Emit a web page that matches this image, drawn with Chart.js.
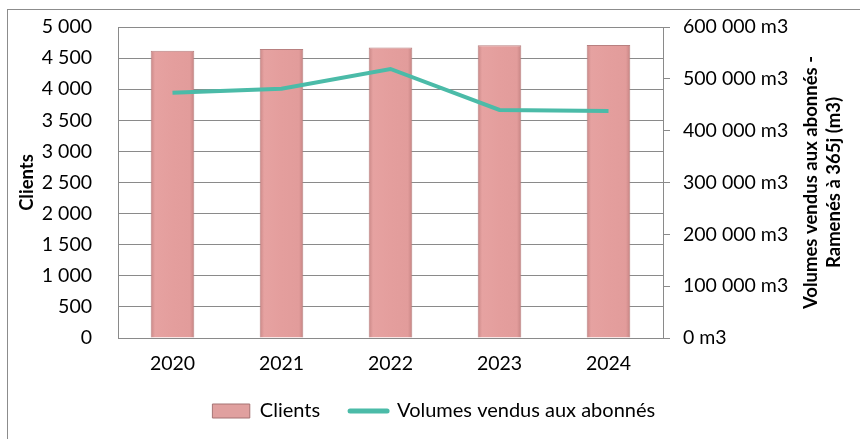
<!DOCTYPE html>
<html>
<head>
<meta charset="utf-8">
<script src="https://cdn.jsdelivr.net/npm/chart.js@4.4.1/dist/chart.umd.min.js"></script>
<style>
  html, body { margin: 0; padding: 0; background: #fff; overflow: hidden; }
  #wrap { position: relative; width: 860px; height: 439px; }
  #frame { position: absolute; left: 7px; top: 9px; width: 900px; height: 500px; border: 1px solid #8c8c8c; box-sizing: border-box; }
  canvas { position: absolute; left: 0; top: 0; }
</style>
</head>
<body>
<div id="wrap">
  <div id="frame"></div>
  <canvas id="chart" width="860" height="439"></canvas>
</div>
<script>
const years = ['2020', '2021', '2022', '2023', '2024'];
const clients = [4620, 4645, 4670, 4705, 4710];
const volumes = [473000, 481000, 519000, 440000, 438000];
const clientsTicks = [0, 500, 1000, 1500, 2000, 2500, 3000, 3500, 4000, 4500, 5000];
const volumeTicks = [0, 100000, 200000, 300000, 400000, 500000, 600000];
const rightTitle = ['Volumes vendus aux abonnés -', 'Ramenés à 365j (m3)'];

const FONT = 'Lato';
const gridColor = '#8a8a8a';

// 4620 -> "4 620"
function spaced(v) {
  return String(v).replace(/\B(?=(\d{3})+(?!\d))/g, ' ');
}

// titre de l'axe droit, lu de bas en haut comme dans Excel
const rightTitlePlugin = {
  id: 'rightTitle',
  afterDraw(chart) {
    const { ctx, chartArea } = chart;
    const cy = (chartArea.top + chartArea.bottom) / 2;
    ctx.save();
    ctx.fillStyle = '#000';
    ctx.font = 'bold 18.5px ' + FONT;
    ctx.textAlign = 'center';
    ctx.textBaseline = 'middle';
    rightTitle.forEach((line, i) => {
      ctx.save();
      ctx.translate(811 + i * 23, cy);
      ctx.rotate(-Math.PI / 2);
      ctx.fillText(line, 0, 0);
      ctx.restore();
    });
    ctx.restore();
  }
};

// léger dégradé horizontal sur chaque barre
function barFill(context) {
  const chart = context.chart;
  const xs = chart.scales.x;
  if (!xs || context.type !== 'data') return '#e49e9d';
  const cx = xs.getPixelForValue(context.dataIndex);
  const half = xs.width / years.length * 0.4 / 2;
  const g = chart.ctx.createLinearGradient(cx - half, 0, cx + half, 0);
  g.addColorStop(0, '#c98786');
  g.addColorStop(0.1, '#e6a2a1');
  g.addColorStop(0.5, '#e49e9d');
  g.addColorStop(0.9, '#e29c9b');
  g.addColorStop(1, '#c58382');
  return g;
}

// les axes verticaux ajoutent ticks.padding en haut/bas, on l'enlève
function noVPad(scale) {
  scale.paddingTop = 0;
  scale.paddingBottom = 0;
}

Chart.defaults.font.family = FONT;
Chart.defaults.font.size = 19.5;
Chart.defaults.color = '#000';

new Chart(document.getElementById('chart'), {
  data: {
    labels: years,
    datasets: [
      {
        type: 'line',
        label: 'Volumes vendus aux abonnés',
        data: volumes,
        yAxisID: 'y1',
        borderColor: '#4bbba8',
        backgroundColor: '#4bbba8',
        borderWidth: 4,
        pointRadius: 0,
        tension: 0,
        order: 0
      },
      {
        type: 'bar',
        label: 'Clients',
        data: clients,
        yAxisID: 'y',
        backgroundColor: barFill,
        borderColor: '#b88080',
        borderWidth: 1,
        categoryPercentage: 1,
        barPercentage: 0.4,
        order: 1
      }
    ]
  },
  options: {
    responsive: false,
    animation: false,
    layout: { padding: { left: 8, top: 27, right: 0, bottom: 8 } },
    plugins: {
      tooltip: { enabled: false },
      legend: {
        position: 'bottom',
        reverse: true,
        labels: {
          usePointStyle: true,
          pointStyleWidth: 37,
          boxHeight: 14,
          padding: 30,
          font: { size: 20 },
          generateLabels(chart) {
            return chart.data.datasets.map((ds, i) => ({
              text: ds.label,
              datasetIndex: i,
              fillStyle: ds.type === 'line' ? ds.backgroundColor : '#e0a09f',
              strokeStyle: ds.type === 'line' ? ds.borderColor : '#a57272',
              lineWidth: ds.type === 'line' ? 5 : 1,
              pointStyle: ds.type === 'line' ? 'line' : 'rect',
              lineCap: 'round',
              hidden: false
            }));
          }
        }
      }
    },
    scales: {
      x: {
        grid: { display: false, drawTicks: false },
        border: { display: true, color: gridColor },
        ticks: { padding: 14 },
        afterFit(scale) { scale.height = 33; }
      },
      y: {
        position: 'left',
        min: 0,
        max: 5000,
        afterBuildTicks(scale) { scale.ticks = clientsTicks.map(v => ({ value: v })); },
        ticks: { padding: 26, callback: v => spaced(v) },
        grid: { color: gridColor, drawTicks: false },
        border: { display: true, color: gridColor },
        title: { display: true, text: 'Clients', font: { size: 18.5, weight: 'bold' }, padding: { top: 8, bottom: 0 } },
        afterFit(scale) { scale.width = 110; noVPad(scale); }
      },
      y1: {
        position: 'right',
        min: 0,
        max: 600000,
        afterBuildTicks(scale) { scale.ticks = volumeTicks.map(v => ({ value: v })); },
        ticks: { padding: 13, callback: v => spaced(v) + ' m3' },
        grid: { drawOnChartArea: false, drawTicks: true, tickLength: 7, color: gridColor },
        border: { display: true, color: gridColor },
        afterFit(scale) { scale.width = 197; noVPad(scale); }
      }
    }
  },
  plugins: [rightTitlePlugin]
});
</script>
</body>
</html>
